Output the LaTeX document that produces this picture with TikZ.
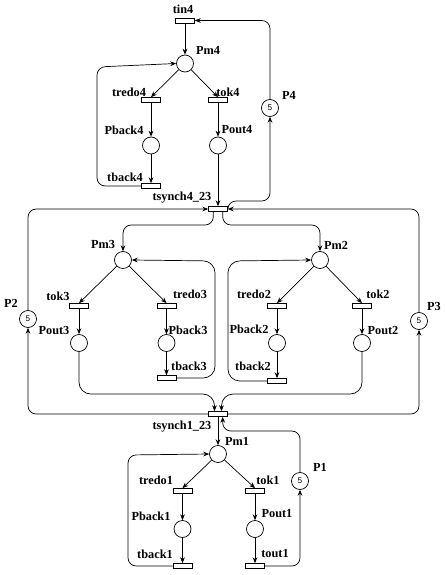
\documentclass[tikz,border=0pt]{standalone}
\usepackage{fontspec}
\setmainfont{Liberation Serif}
\setsansfont{Liberation Sans}
\usetikzlibrary{arrows.meta}

\begin{document}
\begin{tikzpicture}[x=0.3mm,y=-0.3mm]
        \tikzstyle{every node}=[font=\bfseries\fontsize{10.5}{12}\selectfont, inner sep=0pt]
        \tikzstyle{place}=[draw, circle, minimum size=5.1mm, fill=white, line width=0.6pt]
        \tikzstyle{marked}=[font=\sffamily\fontsize{7}{8}\selectfont]
        \tikzstyle{trans}=[draw, rectangle, minimum width=5.7mm, minimum height=1.5mm, fill=white, line width=0.6pt]
        \tikzstyle{arc}=[-{Stealth[length=5pt,width=4pt]}, line width=0.6pt, rounded corners=7pt]
        \useasboundingbox (0,0) rectangle (444,575);
        % places
        \node[place] (Pm4) at (185,63.5) {};
        \node[place] (Pback4) at (151,145.5) {};
        \node[place] (Pout4) at (218,145.5) {};
        \node[place,marked] (P4) at (270,108) {5};
        \node[place,marked] (P2) at (28,319) {5};
        \node[place,marked] (P3) at (419,321) {5};
        \node[place] (Pm3) at (123,260) {};
        \node[place] (Pout3) at (79,343) {};
        \node[place] (Pback3) at (166.5,343) {};
        \node[place] (Pm2) at (320,260) {};
        \node[place] (Pback2) at (277,343) {};
        \node[place] (Pout2) at (362,343) {};
        \node[place] (Pm1) at (218,454) {};
        \node[place,marked] (P1) at (300,481) {5};
        \node[place] (Pback1) at (182.5,529) {};
        \node[place] (Pout1) at (255,529) {};
        % transitions
        \node[trans] (tin4) at (185,20.5) {};
        \node[trans] (tredo4) at (151,100) {};
        \node[trans] (tok4) at (218,100) {};
        \node[trans] (tback4) at (151,186) {};
        \node[trans] (tsync4) at (218,209) {};
        \node[trans] (tok3) at (79,306) {};
        \node[trans] (tredo3) at (166.5,306) {};
        \node[trans] (tback3) at (166.5,378) {};
        \node[trans] (tredo2) at (277,306) {};
        \node[trans] (tok2) at (362,306) {};
        \node[trans] (tback2) at (277,381) {};
        \node[trans] (tsync1) at (218,414) {};
        \node[trans] (tredo1) at (182.5,491) {};
        \node[trans] (tok1) at (255,491) {};
        \node[trans] (tback1) at (182.5,566) {};
        \node[trans] (tout1) at (255,566) {};
        % labels
        \node (l-tin4) at (183,9) {tin4};
        \node (l-Pm4) at (208,50) {Pm4};
        \node (l-tredo4) at (129,92) {tredo4};
        \node (l-tok4) at (228,92) {tok4};
        \node (l-P4) at (289,95) {P4};
        \node (l-Pback4) at (124,130) {Pback4};
        \node (l-Pout4) at (237,130) {Pout4};
        \node (l-tback4) at (125,177) {tback4};
        \node (l-tsync4) at (182,198) {tsynch4\_23};
        \node (l-Pm3) at (103,244) {Pm3};
        \node (l-Pm2) at (336,245) {Pm2};
        \node (l-P2) at (11,303) {P2};
        \node (l-P3) at (434,306) {P3};
        \node (l-tok3) at (58,296) {tok3};
        \node (l-tredo3) at (190,294) {tredo3};
        \node (l-tredo2) at (254,294) {tredo2};
        \node (l-tok2) at (378,294) {tok2};
        \node (l-Pout3) at (54,331) {Pout3};
        \node (l-Pback3) at (188,330) {Pback3};
        \node (l-Pback2) at (249,329) {Pback2};
        \node (l-Pout2) at (383,331) {Pout2};
        \node (l-tback3) at (189,366) {tback3};
        \node (l-tback2) at (253,366) {tback2};
        \node (l-tsync1) at (182,427) {tsynch1\_23};
        \node (l-Pm1) at (237,441) {Pm1};
        \node (l-P1) at (320,467) {P1};
        \node (l-tredo1) at (156,480) {tredo1};
        \node (l-tok1) at (268,480) {tok1};
        \node (l-Pback1) at (151,516) {Pback1};
        \node (l-Pout1) at (277,514) {Pout1};
        \node (l-tback1) at (155,554) {tback1};
        \node (l-tout1) at (275,554) {tout1};
        % module 4
        \draw[arc] (tin4) -- (Pm4);
        \draw[arc] (Pm4) -- (tredo4.north);
        \draw[arc] (Pm4) -- (tok4.north);
        \draw[arc] (tredo4) -- (Pback4);
        \draw[arc] (tok4) -- (Pout4);
        \draw[arc] (Pback4) -- (tback4);
        \draw[arc] (Pout4) -- (tsync4);
        \draw[arc] (tback4.west) -| (97,67) -- (Pm4.west);
        \draw[arc] (P4.north) |- (tin4.east);
        \draw[arc] (tsync4.north east) |- (270,201) -- (P4.south);
        % synchronisation 4/23
        \draw[arc] (P2.north) |- (tsync4.west);
        \draw[arc] (P3.north) |- (tsync4.east);
        \draw[arc] ([xshift=-4pt]tsync4.south) |- (123,225) -- (Pm3.north);
        \draw[arc] ([xshift=4pt]tsync4.south) |- (320,225) -- (Pm2.north);
        % module 3
        \draw[arc] (Pm3) -- (tok3.north);
        \draw[arc] (Pm3) -- (tredo3.north);
        \draw[arc] (tok3) -- (Pout3);
        \draw[arc] (tredo3) -- (Pback3);
        \draw[arc] (Pback3) -- (tback3);
        \draw[arc, rounded corners=10pt] (tback3.east) -| (215,261) -- (Pm3.east);
        \draw[arc, rounded corners=10pt] (Pout3.south) |- (214.5,394) -- ([xshift=-3pt]tsync1.north);
        % module 2
        \draw[arc] (Pm2) -- (tredo2.north);
        \draw[arc] (Pm2) -- (tok2.north);
        \draw[arc] (tredo2) -- (Pback2);
        \draw[arc] (tok2) -- (Pout2);
        \draw[arc] (Pback2) -- (tback2);
        \draw[arc, rounded corners=10pt] (tback2.west) -| (228,261) -- (Pm2.west);
        \draw[arc, rounded corners=10pt] (Pout2.south) |- (221.5,394) -- ([xshift=3pt]tsync1.north);
        % synchronisation 1/23
        \draw[arc] (tsync1.west) -| (P2.south);
        \draw[arc] (tsync1.east) -| (P3.south);
        \draw[arc] (tsync1) -- (Pm1);
        \draw[arc] (P1.north) |- (222.7,431) -- ([xshift=4pt]tsync1.south);
        % module 1
        \draw[arc] (Pm1) -- (tredo1.north);
        \draw[arc] (Pm1) -- (tok1.north);
        \draw[arc] (tredo1) -- (Pback1);
        \draw[arc] (tok1) -- (Pout1);
        \draw[arc] (Pback1) -- (tback1);
        \draw[arc] (Pout1) -- (tout1);
        \draw[arc] (tback1.west) -| (128,455) -- (Pm1.west);
        \draw[arc] (tout1.east) -| (P1.south);
\end{tikzpicture}
\end{document}
